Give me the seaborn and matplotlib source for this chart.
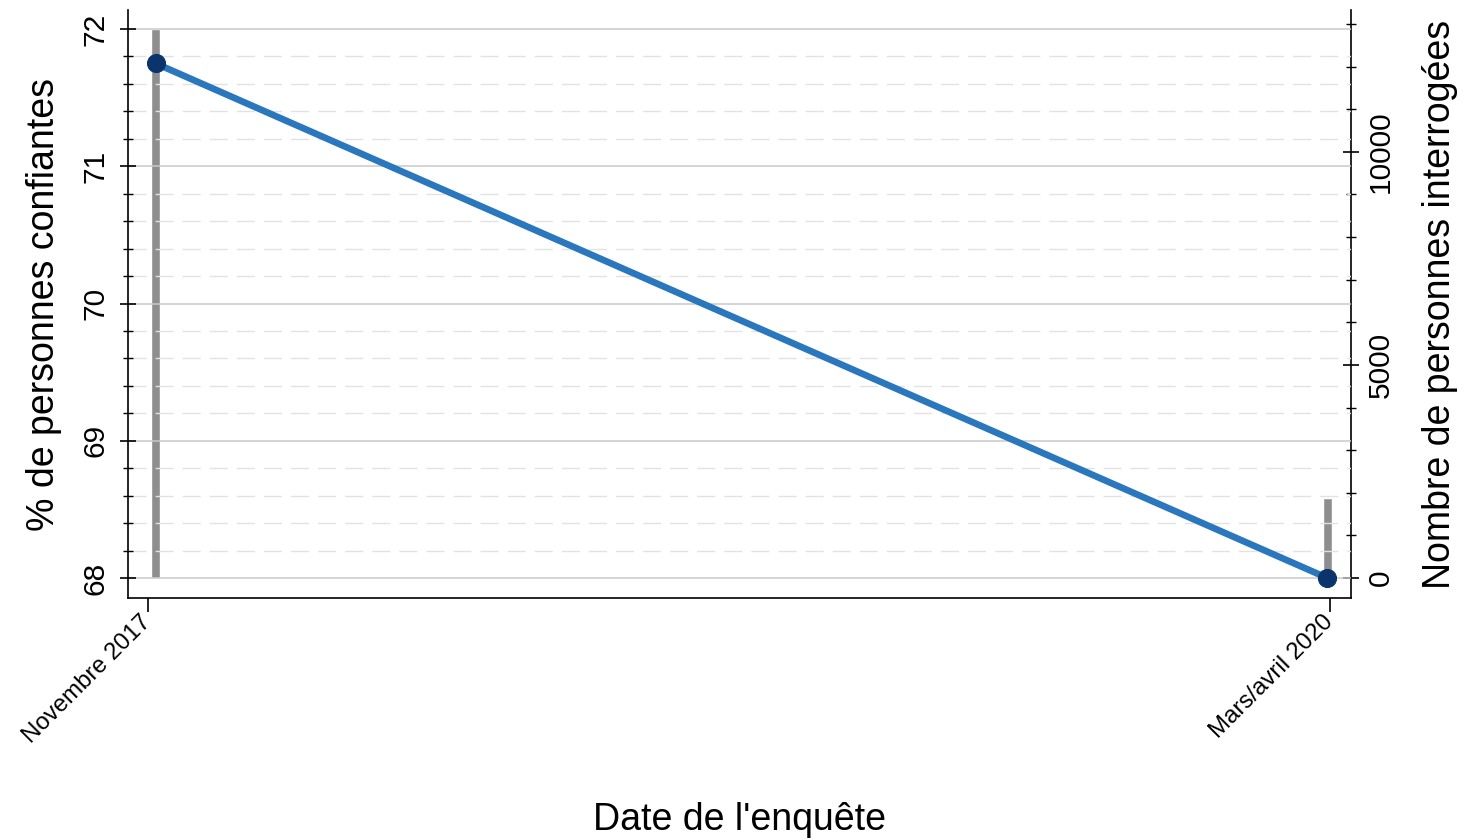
import matplotlib
matplotlib.use("Agg")
import matplotlib.pyplot as plt
import seaborn as sns
import numpy as np
import pandas as pd
from matplotlib.ticker import MultipleLocator

# ---- data ----
dates = ["Novembre 2017", "Mars/avril 2020"]
x_pos = [0.0, 1.0]              # survey positions on the time axis
tick_pos = [-0.0064, 1.0021]    # label positions
pct_confiant = [71.75, 68.0]
n_interroges = [12880, 1880]

sns.set_style("white")
plt.rcParams['font.family'] = ['Liberation Sans', 'DejaVu Sans']
plt.rcParams['text.color'] = 'black'
plt.rcParams['axes.labelcolor'] = 'black'
plt.rcParams['xtick.color'] = 'black'
plt.rcParams['ytick.color'] = 'black'

fig = plt.figure(figsize=(14.75, 8.4), dpi=100)
ax1 = fig.add_axes([0.087, 0.288, 0.8287, 0.700])
ax2 = ax1.twinx()

df = pd.DataFrame({"x": x_pos, "pct": pct_confiant, "n": n_interroges})

# bars (sample size) on right axis
ax2.bar(df["x"], df["n"], width=0.0072, color="#8e8e8e", zorder=1)

# line on left axis
ax1.set_zorder(ax2.get_zorder() + 1)
ax1.patch.set_visible(False)
sns.lineplot(data=df, x="x", y="pct", ax=ax1, color="#2a77bd", lw=4.8,
             marker="o", markersize=13, markerfacecolor="#0b346c",
             markeredgecolor="#0b346c", zorder=5)

# limits
ax1.set_xlim(-0.0232, 1.0198)
ax1.set_ylim(67.854, 72.138)
ax2.set_ylim(-469, 13324)

# ticks
ax1.set_yticks([68, 69, 70, 71, 72])
ax1.yaxis.set_minor_locator(MultipleLocator(0.2))
ax1.set_yticklabels(["68", "69", "70", "71", "72"], rotation=90, va="center")
ax1.tick_params(axis="y", which="major", left=True, direction="inout", length=11,
                width=1.2, labelsize=21.5, pad=8)
ax1.tick_params(axis="y", which="minor", left=True, direction="inout", length=7, width=1.0)
ax1.set_xticks(tick_pos)
ax1.set_xticklabels(dates, rotation=45, ha="right", va="center", rotation_mode="anchor")
ax1.tick_params(axis="x", which="major", bottom=True, direction="out", length=10,
                width=1.2, labelsize=17.3, pad=5)
ax1.tick_params(axis="x", which="minor", bottom=False)

ax2.set_yticks([0, 5000, 10000])
ax2.yaxis.set_minor_locator(MultipleLocator(1000))
ax2.set_yticklabels(["0", "5000", "10000"], rotation=90, va="center")
ax2.tick_params(axis="y", which="major", right=True, direction="inout", length=11,
                width=1.2, labelsize=21.5, pad=6)
ax2.tick_params(axis="y", which="minor", right=True, direction="inout", length=7, width=1.0)

# grid
ax1.grid(False)
ax2.grid(False)
ax1.grid(which="major", axis="y", color="#c9c9c9", lw=1.1, zorder=0)
ax1.grid(which="minor", axis="y", color="#e2e2e2", lw=1.0, ls=(0, (13, 6.5)), zorder=0)
ax1.set_axisbelow(True)

# spines
for ax in (ax1, ax2):
    ax.spines["top"].set_visible(False)
    for s in ("left", "right", "bottom"):
        ax.spines[s].set_color("black")
        ax.spines[s].set_linewidth(1.2)
ax1.spines["right"].set_visible(False)
ax2.spines["left"].set_visible(False)
ax2.spines["bottom"].set_visible(False)

ax1.set_xlabel("Date de l'enquête", fontsize=27, labelpad=39)
ax1.set_ylabel("% de personnes confiantes", fontsize=27, labelpad=14)
ax2.set_ylabel("Nombre de personnes interrogées", fontsize=27, labelpad=20)

fig.savefig("out.png", dpi=100)
